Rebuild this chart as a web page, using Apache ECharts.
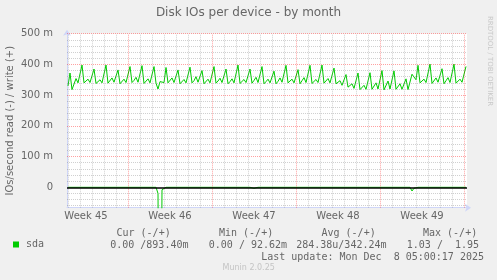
<!DOCTYPE html>
<html>
<head>
<meta charset="utf-8">
<script src="https://cdn.jsdelivr.net/npm/echarts@6/dist/echarts.min.js"></script>
<style>
html,body{margin:0;padding:0;background:#f0f0f0;}
#chart{width:497px;height:280px;}
</style>
</head>
<body>
<div id="chart"></div>
<script>
// ---- data ----
// hours relative to Mon 10 Nov 2025 00:00 (start of Week 46)
const weekLabels = ['Week 45', 'Week 46', 'Week 47', 'Week 48', 'Week 49'];
const weekStartHours = [-168, 0, 168, 336, 504];
const yTickValues = [0, 100, 200, 300, 400, 500]; // milli-IOs/s
const sampleStartHour = -120;
const sampleStepHours = 4;
// write IOs/s (m), one row per day: 00h 04h 08h 12h 16h 20h
const writeValues = [
  330, 372, 318, 336, 354, 340,
  342, 398, 340, 343, 352, 341,
  341, 385, 338, 344, 350, 340,
  341, 398, 339, 345, 356, 342,
  342, 382, 337, 343, 352, 341,
  340, 393, 341, 348, 358, 342,
  341, 396, 338, 344, 353, 340,
  342, 393, 339, 320, 344, 342,
  341, 390, 340, 346, 356, 341,
  339, 382, 337, 343, 351, 340,
  341, 391, 340, 347, 360, 342,
  338, 380, 337, 342, 352, 340,
  341, 393, 339, 346, 355, 341,
  341, 385, 337, 344, 353, 340,
  340, 398, 338, 343, 351, 341,
  341, 385, 339, 348, 358, 341,
  342, 393, 337, 344, 352, 340,
  339, 378, 337, 345, 356, 342,
  341, 397, 340, 344, 352, 340,
  341, 383, 337, 347, 357, 341,
  340, 397, 338, 343, 351, 341,
  341, 398, 339, 345, 354, 340,
  340, 388, 337, 341, 347, 332,
  328, 367, 326, 329, 337, 322,
  320, 372, 318, 322, 332, 319,
  318, 373, 319, 323, 340, 320,
  319, 380, 317, 323, 346, 320,
  318, 379, 319, 325, 337, 319,
  320, 353, 318, 324, 368, 366,
  350, 397, 340, 343, 352, 341,
  341, 401, 338, 344, 356, 342,
  340, 386, 337, 347, 357, 341,
  341, 401, 339, 344, 352, 342,
  342, 393.4
];
// read IOs/s (m), drawn negative
const readValues = [
  0, 0, 0, 0, 0, 0,
  0, 0, 0, 0, 0, 0,
  0, 0, 0, 0, 0, 0,
  0, 0, 0, 0, 0, 0,
  0, 0, 0, 0, 0, 0,
  0, 0, 0, 0, 0, 0,
  0, 0, 0, 0, 0, 0,
  0, 0, 0, -20, -1030, -8,
  -7, 0, 0, 0, 0, 0,
  0, 0, 0, 0, 0, 0,
  0, 0, 0, 0, 0, 0,
  0, 0, 0, 0, 0, 0,
  0, 0, 0, 0, 0, 0,
  0, 0, 0, 0, 0, 0,
  0, 0, 0, 0, 0, 0,
  0, 0, 0, -3, 0, 0,
  0, 0, 0, 0, 0, 0,
  0, 0, 0, 0, 0, 0,
  0, 0, 0, 0, 0, 0,
  0, 0, 0, 0, 0, 0,
  0, 0, 0, 0, 0, 0,
  0, 0, 0, 0, 0, 0,
  0, 0, 0, 0, 0, 0,
  0, 0, 0, 0, 0, 0,
  0, 0, 0, 0, 0, 0,
  0, 0, 0, 0, 0, 0,
  0, 0, 0, 0, 0, 0,
  0, 0, 0, 0, 0, 0,
  0, 0, 0, 0, -12, -3,
  0, 0, 0, 0, 0, 0,
  0, 0, 0, 0, 0, 0,
  -2, 0, 0, 0, 0, 0,
  0, 0, 0, 0, 0, 0,
  0, 0
];
const legendHeaders = ['Cur (-/+)', 'Min (-/+)', 'Avg (-/+)', 'Max (-/+)'];
const legendStats = ['0.00 /893.40m', '0.00 / 92.62m', '284.38u/342.24m', '1.03 /  1.95'];
const lastUpdate = 'Last update: Mon Dec  8 05:00:17 2025';

// ---- build ----
const writeData = writeValues.map((v, i) => [sampleStartHour + i * sampleStepHours, v]);
const readData = readValues.map((v, i) => [sampleStartHour + i * sampleStepHours, v]);
const weekMid = weekStartHours.map(h => h + 84);

const MINOR = 'rgba(128,128,128,0.37)';
const MAJOR = 'rgba(255,0,0,0.37)';
const gridLines = [];
for (let h = -120; h <= 672; h += 24) {
  gridLines.push({xAxis: h, lineStyle: {color: h % 168 === 0 ? MAJOR : MINOR, type: [1, 1], width: 1}});
}
for (let v = -60; v <= 500; v += 20) {
  if (v === 0) continue;
  gridLines.push({yAxis: v, lineStyle: {color: v % 100 === 0 ? MAJOR : MINOR, type: [1, 1], width: 1}});
}

const FONT = '"DejaVu Sans", sans-serif';
const MONO = '"DejaVu Sans Mono", monospace';
const TXT = '#666666';

function txt(text, x, y, font, fill) {
  return {
    type: 'text', x: x, y: y, silent: true,
    style: {text: text, font: font, fill: fill, align: 'left', textAlign: 'left',
            verticalAlign: 'middle', textVerticalAlign: 'middle'}
  };
}
const headerX = [116.5, 219, 321.5, 423];
const statX = [110.2, 208.8, 296.2, 406.8];
const graphics = [];
legendHeaders.forEach((t, i) => graphics.push(txt(t, headerX[i], 233.5, '10px ' + MONO, TXT)));
legendStats.forEach((t, i) => graphics.push(txt(t, statX[i], 245.5, '10px ' + MONO, TXT)));
graphics.push(txt(lastUpdate, 261.2, 257.5, '10px ' + MONO, TXT));
graphics.push(txt('Munin 2.0.25', 222.5, 268.3, '8px ' + FONT, '#c4c4c4'));
graphics.push({
  type: 'text', x: 490, y: 61, rotation: -Math.PI / 2, silent: true,
  style: {text: 'RRDTOOL / TOBI OETIKER', font: '7px ' + FONT, fill: '#c8c8c8',
          align: 'center', textAlign: 'center', verticalAlign: 'middle', textVerticalAlign: 'middle'}
});

const chart = echarts.init(document.getElementById('chart'), null, {renderer: 'canvas'});
chart.setOption({
  animation: false,
  backgroundColor: '#f0f0f0',
  title: {
    text: 'Disk IOs per device - by month', left: 'center', top: 6.5, padding: 0,
    textStyle: {fontFamily: FONT, fontSize: 12, fontWeight: 'normal', color: TXT}
  },
  legend: {
    data: ['sda'], left: 13, top: 239.5, padding: 0, icon: 'rect', itemWidth: 6, itemHeight: 6,
    itemGap: 6, selectedMode: false,
    textStyle: {fontFamily: MONO, fontSize: 10, color: TXT, padding: [0, 0, 0, 2]}
  },
  grid: {left: 67, right: 30, top: 33.7, bottom: 72.3, show: true, backgroundColor: '#ffffff', borderWidth: 0,
         containLabel: false, outerBoundsMode: 'none'},
  xAxis: {
    type: 'value', min: -122, max: 678,
    axisLine: {show: true, onZero: false, lineStyle: {color: '#CFD6F8', width: 1}, symbol: ['none', 'arrow'], symbolSize: [6, 6], symbolOffset: [0, 4]},
    axisTick: {show: false},
    splitLine: {show: false},
    axisLabel: {
      customValues: weekMid, margin: 4, fontFamily: FONT, fontSize: 10, color: TXT,
      formatter: v => weekLabels[weekMid.indexOf(v)] || ''
    }
  },
  yAxis: {
    type: 'value', min: -66.4, max: 500,
    name: 'IOs/second read (-) / write (+)', nameLocation: 'middle', nameGap: 52, nameRotate: 90,
    nameMoveOverlap: false,
    nameTextStyle: {fontFamily: FONT, fontSize: 10, color: TXT},
    axisLine: {show: true, onZero: false, lineStyle: {color: '#CFD6F8', width: 1}, symbol: ['none', 'arrow'], symbolSize: [6, 6], symbolOffset: [0, 4]},
    axisTick: {show: false},
    splitLine: {show: false},
    axisLabel: {
      customValues: yTickValues, margin: 14, fontFamily: FONT, fontSize: 10, color: TXT,
      formatter: v => v === 0 ? '0' : v + ' m'
    }
  },
  graphic: graphics,
  series: [
    {
      name: 'gridlines', type: 'line', data: [], z: 1, silent: true,
      markLine: {silent: true, symbol: ['none', 'none'], label: {show: false}, animation: false, data: gridLines}
    },
    {
      name: 'sda', type: 'line', data: readData, z: 2, showSymbol: false, symbol: 'none', clip: true,
      lineStyle: {color: '#00cc00', width: 1}, itemStyle: {color: '#00cc00'}
    },
    {
      name: 'sda', type: 'line', data: writeData, z: 3, showSymbol: false, symbol: 'none', clip: true,
      lineStyle: {color: '#00cc00', width: 1}, itemStyle: {color: '#00cc00'}
    },
    {
      name: 'zero', type: 'line', data: [], z: 4, silent: true,
      markLine: {silent: true, symbol: ['none', 'none'], label: {show: false}, animation: false,
        data: [{yAxis: 0, lineStyle: {color: '#000000', type: 'solid', width: 1.5}}]}
    }
  ]
});
</script>
</body>
</html>
